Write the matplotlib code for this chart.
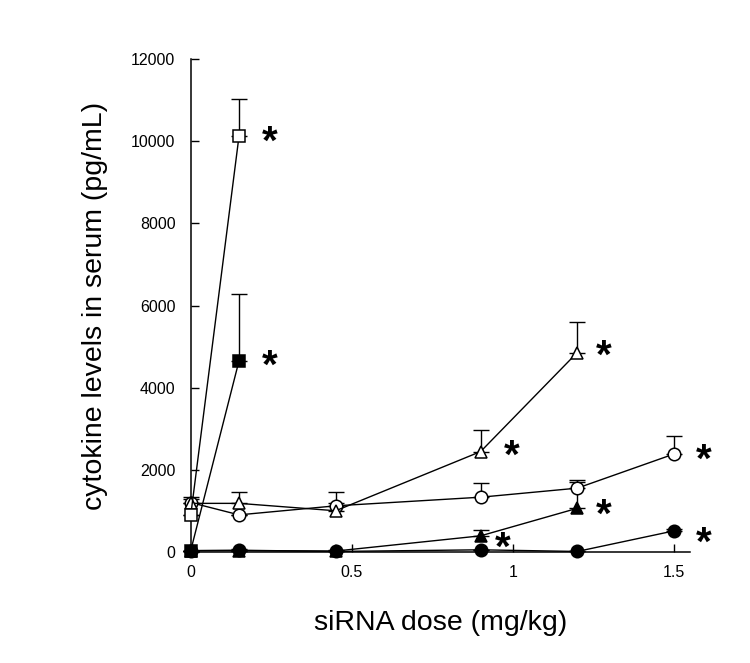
import numpy as np
import matplotlib
matplotlib.use("Agg")
import matplotlib.pyplot as plt

plt.rcParams['font.family'] = ['Liberation Sans', 'DejaVu Sans']

# siRNA dose (mg/kg) per series
dose_six = [0, 0.15, 0.45, 0.9, 1.2, 1.5]
dose_five = [0, 0.15, 0.45, 0.9, 1.2]
dose_two = [0, 0.15]

# cytokine levels (pg/mL) and upper error
open_sq = [900, 10130]
open_sq_err = [0, 890]
filled_sq = [40, 4660]
filled_sq_err = [0, 1625]
open_tri = [1190, 1190, 1010, 2450, 4860]
open_tri_err = [100, 270, 450, 530, 750]
open_circ = [1210, 910, 1130, 1340, 1560, 2390]
open_circ_err = [130, 0, 60, 340, 160, 450]
filled_tri = [40, 40, 30, 400, 1070]
filled_tri_err = [0, 0, 0, 140, 690]
filled_circ = [40, 50, 20, 60, 20, 520]
filled_circ_err = [0, 30, 40, 0, 0, 50]

# significance marks (x, y)
star_x = [0.246, 0.246, 1.281, 0.997, 1.592, 1.281, 0.970, 1.592]
star_y = [10130, 4680, 4920, 2490, 2390, 1070, 260, 380]

series = [
    (dose_six, filled_circ, filled_circ_err, 'o', 'black'),
    (dose_five, filled_tri, filled_tri_err, '^', 'black'),
    (dose_six, open_circ, open_circ_err, 'o', 'white'),
    (dose_five, open_tri, open_tri_err, '^', 'white'),
    (dose_two, filled_sq, filled_sq_err, 's', 'black'),
    (dose_two, open_sq, open_sq_err, 's', 'white'),
]

fig = plt.figure(figsize=(7.5, 6.63), dpi=100)
ax = fig.add_axes([0.2543, 0.167, 0.6657, 0.744])

for i, (x, y, e, m, fc) in enumerate(series):
    ax.errorbar(x, y, yerr=[np.zeros(len(e)), e], fmt='none', ecolor='black',
                elinewidth=1.0, capsize=5.5, capthick=1.0, zorder=2 + i * 0.1,
                clip_on=False)
    ax.plot(x, y, color='black', lw=1.0, marker=m, markersize=9 if m != 's' else 8.5,
            markerfacecolor=fc, markeredgecolor='black', markeredgewidth=1.1,
            zorder=3 + i * 0.1, clip_on=False)

for sx, sy in zip(star_x, star_y):
    ax.annotate('*', xy=(sx, sy), xytext=(0, -13), textcoords='offset points',
                ha='center', va='baseline', fontsize=29, fontweight='bold',
                annotation_clip=False)

ax.set_xlim(0, 1.55)
ax.set_ylim(0, 12000)
ax.set_xticks([0, 0.5, 1, 1.5])
ax.set_xticklabels(['0', '0.5', '1', '1.5'])
ax.set_yticks(np.arange(0, 12001, 2000))
ax.tick_params(direction='in', length=6, width=1.0, labelsize=11.5, colors='black')
ax.tick_params(axis='x', pad=9)
ax.tick_params(axis='y', pad=11)
for s in ['top', 'right']:
    ax.spines[s].set_visible(False)
for s in ['left', 'bottom']:
    ax.spines[s].set_linewidth(1.1)

ax.set_xlabel('siRNA dose (mg/kg)', fontsize=20.5)
ax.xaxis.set_label_coords(0.5, -0.118)
ax.xaxis.label.set_va('top')
ax.set_ylabel('cytokine levels in serum (pg/mL)', fontsize=20.5)
ax.yaxis.set_label_coords(-0.165, 0.5)

fig.savefig('out.png', dpi=100)
